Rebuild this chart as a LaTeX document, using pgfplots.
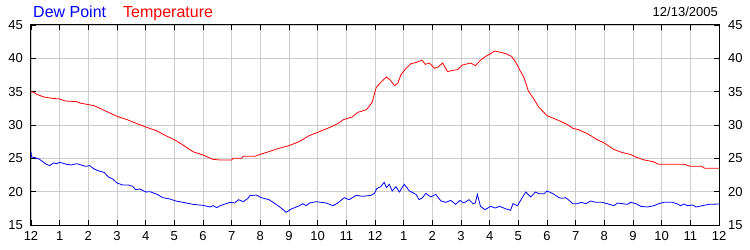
\documentclass[border=0pt]{standalone}
\usepackage{pgfplots}
\pgfplotsset{compat=1.18}
\usepackage{fontspec}
\setmainfont{Liberation Sans}
\definecolor{gridgray}{RGB}{204,204,204}
\begin{document}
\begin{tikzpicture}
\useasboundingbox (-31bp,-25bp) rectangle (719bp,225bp);
\begin{axis}[
  scale only axis, width=688bp, height=200bp,
  xmin=0, xmax=24, ymin=15, ymax=45,
  xtick={0,...,24},
  xticklabels={12,1,2,3,4,5,6,7,8,9,10,11,12,1,2,3,4,5,6,7,8,9,10,11,12},
  ytick={15,20,...,45},
  grid=major, major grid style={gridgray, line width=0.8bp},
  axis line style={black, line width=1bp},
  tick style={black, line width=0.8bp}, major tick length=5bp,
  xtick pos=both, ytick pos=both, tick align=inside,
  /pgf/number format/assume math mode=true,
  tick label style={font=\fontsize{13bp}{15bp}\selectfont, inner sep=0pt},
  xticklabel style={yshift=-6bp},
  yticklabel style={xshift=-8bp},
  yticklabel pos=left,
]
\addplot[red, line width=0.8bp] table {
0 35.0
0.1 34.9
0.2 34.6
0.45 34.2
0.75 34.0
1.0 33.9
1.2 33.6
1.6 33.5
1.7 33.3
1.95 33.1
2.2 32.9
2.55 32.2
3.0 31.3
3.35 30.8
3.7 30.2
4.0 29.7
4.4 29.1
4.75 28.3
5.0 27.8
5.3 27.0
5.65 26.0
6.0 25.5
6.35 24.85
6.6 24.75
7.0 24.75
7.05 25.0
7.35 25.0
7.4 25.3
7.8 25.3
8.0 25.6
8.3 26.0
8.65 26.5
9.0 26.9
9.35 27.5
9.7 28.4
10.0 28.9
10.4 29.6
10.7 30.2
10.9 30.8
11.2 31.2
11.4 31.9
11.7 32.3
11.9 33.4
12.04 35.6
12.2 36.4
12.4 37.2
12.54 36.7
12.68 35.9
12.8 36.3
12.9 37.5
13.08 38.5
13.26 39.2
13.45 39.4
13.64 39.75
13.75 39.1
13.9 39.3
14.07 38.5
14.2 38.7
14.36 39.3
14.53 38.0
14.7 38.2
14.88 38.3
15.05 39.0
15.34 39.3
15.5 38.9
15.69 39.75
15.86 40.3
16.03 40.7
16.17 41.1
16.38 40.9
16.56 40.7
16.76 40.3
16.9 39.5
17.08 38.0
17.2 37.1
17.35 35.1
17.54 33.9
17.71 32.7
18.0 31.4
18.2 31.05
18.45 30.6
18.7 30.1
18.9 29.5
19.1 29.3
19.45 28.6
19.75 27.8
20.0 27.3
20.3 26.4
20.6 25.9
20.9 25.6
21.15 25.1
21.4 24.75
21.7 24.5
21.9 24.1
22.8 24.1
23.0 23.8
23.4 23.8
23.5 23.5
24.0 23.5
};
\addplot[blue, line width=0.8bp] table {
0 26.0
0.02 25.2
0.15 25.1
0.3 24.85
0.5 24.2
0.65 23.9
0.78 24.3
0.9 24.2
1.0 24.4
1.25 24.1
1.4 24.0
1.6 24.2
1.75 24.0
1.9 23.8
2.05 23.9
2.2 23.4
2.37 23.1
2.55 22.9
2.7 22.2
2.85 21.9
3.0 21.3
3.2 21.0
3.4 21.0
3.55 20.8
3.65 20.3
3.8 20.4
4.0 19.95
4.15 20.0
4.4 19.6
4.6 19.1
4.85 18.9
5.05 18.6
5.3 18.4
5.65 18.1
6.0 17.95
6.25 17.7
6.35 17.9
6.48 17.6
6.6 17.9
6.95 18.4
7.1 18.3
7.24 18.8
7.4 18.5
7.57 19.0
7.63 19.4
7.86 19.5
8.03 19.1
8.3 18.8
8.55 18.1
8.8 17.3
8.9 16.9
9.08 17.4
9.25 17.7
9.37 17.9
9.48 18.2
9.6 17.9
9.72 18.3
9.95 18.5
10.12 18.4
10.3 18.3
10.53 17.9
10.7 18.3
10.93 19.1
11.1 18.8
11.34 19.45
11.57 19.3
11.86 19.45
11.98 19.75
12.06 20.45
12.2 20.75
12.32 21.4
12.4 20.6
12.5 21.1
12.6 20.1
12.73 20.75
12.85 19.95
13.02 21.1
13.2 20.1
13.43 19.6
13.54 18.8
13.66 19.1
13.77 19.75
13.95 19.2
14.12 19.6
14.3 18.6
14.47 18.4
14.64 18.7
14.82 18.1
14.96 18.7
15.1 18.3
15.28 18.8
15.42 18.2
15.5 18.3
15.57 19.6
15.68 17.8
15.84 17.3
16.03 17.8
16.2 17.55
16.34 17.8
16.55 17.45
16.73 17.2
16.81 18.2
16.97 17.9
17.08 18.7
17.26 19.95
17.43 19.2
17.6 19.95
17.72 19.7
17.9 19.7
18.0 20.1
18.19 19.75
18.42 19.1
18.53 19.0
18.65 19.1
18.77 18.7
18.9 18.2
19.06 18.2
19.2 18.4
19.35 18.2
19.52 18.6
19.7 18.4
19.93 18.4
20.1 18.2
20.34 17.9
20.46 18.3
20.63 18.2
20.8 18.1
20.92 18.4
21.1 18.2
21.27 17.8
21.5 17.7
21.73 17.9
21.9 18.2
22.08 18.4
22.37 18.4
22.55 18.15
22.66 17.9
22.78 18.15
22.9 17.9
23.07 18.0
23.2 17.7
23.42 17.9
23.65 18.1
24.0 18.15
};
\end{axis}
\begin{axis}[
  scale only axis, width=688bp, height=200bp,
  xmin=0, xmax=24, ymin=15, ymax=45,
  hide x axis, axis y line*=right,
  y axis line style={draw=none},
  ytick={15,20,...,45}, ytick style={draw=none},
  /pgf/number format/assume math mode=true,
  yticklabel style={font=\fontsize{13bp}{15bp}\selectfont, inner sep=0pt, xshift=9bp},
]
\end{axis}
\node[anchor=base west, inner sep=0pt, text=blue, font=\fontsize{16bp}{18bp}\selectfont] at (2bp,207.5bp) {Dew Point};
\node[anchor=base west, inner sep=0pt, text=red, font=\fontsize{16bp}{18bp}\selectfont] at (92bp,207.5bp) {Temperature};
\node[anchor=base east, inner sep=0pt, font=\fontsize{13bp}{15bp}\selectfont] at (687bp,208.5bp) {12/13/2005};
\end{tikzpicture}
\end{document}
